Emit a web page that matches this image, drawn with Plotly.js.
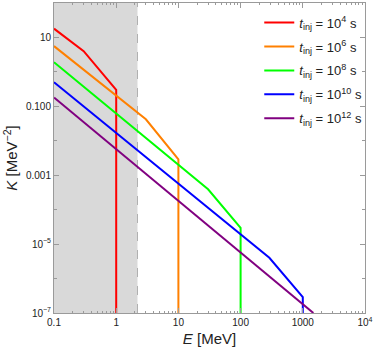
<!DOCTYPE html>
<html>
<head>
<meta charset="utf-8">
<script src="https://cdn.plot.ly/plotly-3.0.1.min.js"></script>
<style>
  html, body { margin: 0; padding: 0; background: #fff; }
  #chart { width: 374px; height: 353px; }
</style>
</head>
<body>
<div id="chart"></div>
<script>
// Injection times (legend exponents) and the spectra
const injExponents = ['4', '6', '8', '10', '12'];
const lineColors = ['#ff0000', '#ff8000', '#00ff00', '#0000ff', '#800080'];

const energy4 = [0.1, 0.3, 1, 1];
const kappa4 = [18, 4.0, 0.30, 1e-7];

const energy6 = [0.1, 3, 10, 10];
const kappa6 = [5.6, 0.042, 0.0029, 1e-7];

const energy8 = [0.1, 30, 100, 100];
const kappa8 = [1.9, 3.9e-4, 2.95e-5, 1e-7];

const energy10 = [0.1, 290, 1000, 1000];
const kappa10 = [0.5, 4.0e-6, 2.9e-7, 1e-7];

const energy12 = [0.1, 1480];
const kappa12 = [0.18, 1e-7];

// Shaded (excluded) region upper bound in MeV
const shadeEdge = 2.2;

// Axis ticks
const xTickVals = [0.1, 1, 10, 100, 1000, 10000];
const xTickText = ['0.1', '1', '10', '100', '1000', '10<sup>4</sup>'];
const yTickVals = [10, 0.1, 0.001, 1e-5, 1e-7];
const yTickText = ['10', '0.100', '0.001', '10<sup>−5</sup>', '10<sup>−7</sup>'];

const energies = [energy4, energy6, energy8, energy10, energy12];
const kappas = [kappa4, kappa6, kappa8, kappa10, kappa12];

// minor ticks: 2..9 in each decade
function minorLog(lo, hi) {
    const out = [];
    for (let d = lo; d < hi; d++) {
        for (let m = 2; m <= 9; m++) out.push(m * Math.pow(10, d));
    }
    return out;
}
const yDecades = [];
for (let d = -7; d <= 2; d++) yDecades.push(Math.pow(10, d));

const traces = energies.map((e, i) => ({
    x: e,
    y: kappas[i],
    type: 'scatter',
    mode: 'lines',
    line: { color: lineColors[i], width: 2 },
    name: '<i>t</i><sub>inj</sub> = 10<sup>' + injExponents[i] + '</sup> s',
    legendgroup: 'g' + i,
}));

const frameColor = '#9a9a9a';
const font = { family: 'Liberation Sans, Arial, sans-serif', size: 10, color: '#222' };
const titleFont = { family: font.family, size: 15, color: '#222' };

const layout = {
    width: 374,
    height: 353,
    margin: { l: 54, r: 9, t: 3, b: 40 },
    paper_bgcolor: '#ffffff',
    plot_bgcolor: '#ffffff',
    font: font,
    showlegend: true,
    legend: {
        x: 0.66,
        y: 0.985,
        xanchor: 'left',
        yanchor: 'top',
        bgcolor: 'rgba(0,0,0,0)',
        borderwidth: 0,
        font: { family: font.family, size: 13, color: '#222' },
        tracegroupgap: 4,
        itemwidth: 30,
    },
    xaxis: {
        type: 'log',
        range: [-1, 4],
        tickmode: 'array',
        tickvals: xTickVals,
        ticktext: xTickText,
        ticks: 'inside',
        ticklen: 5,
        tickcolor: frameColor,
        showline: true,
        linecolor: frameColor,
        linewidth: 1,
        mirror: 'ticks',
        showgrid: false,
        zeroline: false,
        minor: { tickmode: 'array', tickvals: minorLog(-1, 4), ticks: 'inside', ticklen: 2, tickcolor: frameColor, showgrid: false },
        title: { text: '<i>E</i> [MeV]', font: titleFont, standoff: 6 },
    },
    yaxis: {
        type: 'log',
        range: [-7, 2],
        tickmode: 'array',
        tickvals: yTickVals,
        ticktext: yTickText,
        ticks: 'inside',
        ticklen: 5,
        tickcolor: frameColor,
        showline: true,
        linecolor: frameColor,
        linewidth: 1,
        mirror: 'ticks',
        showgrid: false,
        zeroline: false,
        minor: { tickmode: 'array', tickvals: yDecades, ticks: 'inside', ticklen: 3, tickcolor: frameColor, showgrid: false },
        title: { text: '<i>K</i> [MeV<sup>−2</sup>]', font: titleFont, standoff: 4 },
    },
    shapes: [
        {
            type: 'rect', xref: 'x', yref: 'paper',
            x0: 0.1, x1: shadeEdge, y0: 0, y1: 1,
            fillcolor: '#d9d9d9', line: { width: 0 }, layer: 'below',
        },
        {
            type: 'line', xref: 'x', yref: 'paper',
            x0: shadeEdge, x1: shadeEdge, y0: 0, y1: 1,
            line: { color: '#b0b0b0', width: 1, dash: 'dash' }, layer: 'below',
        },
    ],
};

Plotly.newPlot('chart', traces, layout, { displayModeBar: false, staticPlot: true });
</script>
</body>
</html>
